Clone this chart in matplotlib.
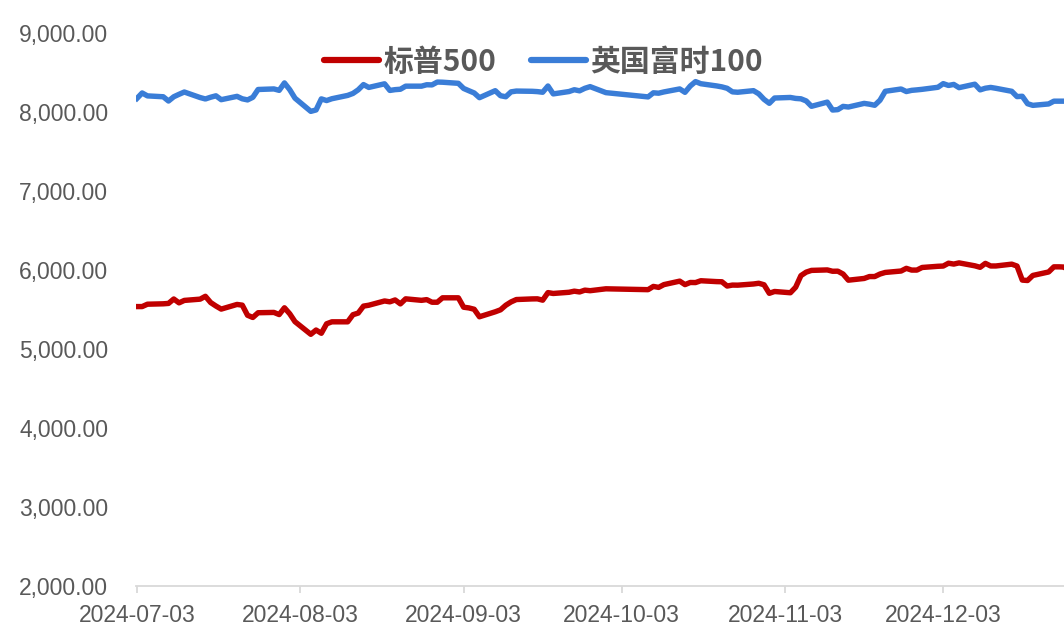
import numpy as np
import pandas as pd
import matplotlib
matplotlib.use("Agg")
import matplotlib.pyplot as plt
import matplotlib.dates as mdates
from matplotlib.ticker import FuncFormatter

# 交易日（10月1日-7日数据缺失，折线直接连接）
days = pd.bdate_range("2024-07-03", "2024-12-27")
days = days[(days < "2024-10-01") | (days > "2024-10-07")]

spx = [
    # 7月
    5537, 5537, 5567, 5572, 5577, 5633, 5584, 5615, 5631, 5667, 5588, 5544, 5505, 5564,
    5555, 5427, 5399, 5459, 5463, 5436, 5522,
    # 8月
    5446, 5346, 5186, 5240, 5199, 5319, 5344, 5344, 5434, 5455, 5543, 5554, 5608, 5597,
    5621, 5571, 5635, 5616, 5625, 5592, 5592, 5648,
    # 9月
    5648, 5529, 5520, 5503, 5408, 5471, 5496, 5554, 5596, 5626, 5634, 5635, 5618, 5714,
    5703, 5718, 5732, 5722, 5745, 5738, 5762,
    # 10月
    5751, 5792, 5780, 5815, 5859, 5815, 5842, 5841, 5864, 5853, 5851, 5797, 5809, 5808,
    5823, 5832, 5813, 5705,
    # 11月
    5728, 5712, 5782, 5929, 5973, 5995, 6001, 5984, 5985, 5949, 5871, 5893, 5917, 5917,
    5949, 5969, 5987, 6021, 5999, 5999, 6032,
    # 12月
    6047, 6050, 6086, 6075, 6090, 6053, 6034, 6084, 6051, 6051, 6074, 6050, 5872, 5867,
    5931, 5975, 6040, 6040, 6037, 5970,
]

ftse = [
    # 7月
    8171, 8241, 8204, 8193, 8139, 8193, 8224, 8253, 8183, 8165, 8187, 8205, 8156, 8198,
    8167, 8153, 8186, 8285, 8292, 8274, 8368,
    # 8月
    8283, 8175, 8008, 8026, 8166, 8145, 8168, 8210, 8235, 8281, 8347, 8311, 8357, 8273,
    8283, 8288, 8327, 8327, 8345, 8343, 8379, 8377,
    # 9月
    8363, 8298, 8269, 8241, 8181, 8270, 8206, 8193, 8255, 8265, 8262, 8258, 8250, 8329,
    8229, 8259, 8282, 8268, 8300, 8321, 8245,
    # 10月
    8191, 8243, 8238, 8254, 8292, 8249, 8329, 8385, 8358, 8330, 8318, 8300, 8255, 8250,
    8270, 8230, 8160, 8110,
    # 11月
    8177, 8184, 8172, 8167, 8140, 8072, 8125, 8025, 8030, 8071, 8063, 8109, 8099, 8085,
    8149, 8262, 8291, 8259, 8274, 8280, 8287,
    # 12月
    8313, 8359, 8336, 8349, 8308, 8352, 8280, 8301, 8311, 8300, 8262, 8195, 8199, 8105,
    8084, 8102, 8137, 8137, 8137, 8149,
]

series_names = ["标普500", "英国富时100"]
tick_dates = ["2024-07-03", "2024-08-03", "2024-09-03", "2024-10-03", "2024-11-03", "2024-12-03"]
y_ticks = [2000, 3000, 4000, 5000, 6000, 7000, 8000, 9000]

fig = plt.figure(figsize=(10.64, 6.41), dpi=100)
ax = fig.add_axes([136 / 1064, 55 / 641, 928 / 1064, 553 / 641])

ax.plot(days, spx, color="#C00000", lw=3.9, solid_joinstyle="round", label=series_names[0])
ax.plot(days, ftse, color="#3A7DD7", lw=3.9, solid_joinstyle="round", label=series_names[1])

ax.set_ylim(2000, 9000)
ax.set_xlim(pd.Timestamp("2024-07-02 20:00"), pd.Timestamp("2024-12-25 22:00"))
ax.set_yticks(y_ticks)
ax.yaxis.set_major_formatter(FuncFormatter(lambda v, p: f"{v:,.2f}"))
ax.set_xticks(pd.to_datetime(tick_dates))
ax.xaxis.set_major_formatter(mdates.DateFormatter("%Y-%m-%d"))

for s in ["top", "right", "left"]:
    ax.spines[s].set_visible(False)
ax.spines["bottom"].set_color("#D9D9D9")
ax.spines["bottom"].set_linewidth(1.3)

ax.tick_params(axis="y", length=0, pad=20, labelsize=16.5, labelcolor="#595959")
ax.tick_params(axis="x", length=5, width=1.3, color="#D9D9D9", pad=8, labelsize=16.5,
               labelcolor="#595959")
for lab in ax.get_xticklabels() + ax.get_yticklabels():
    lab.set_family(["Liberation Sans", "DejaVu Sans"])

leg = ax.legend(loc="center", bbox_to_anchor=(0.439, 0.948), ncol=2, frameon=False,
                handlelength=1.84, handletextpad=0.15, columnspacing=1.15,
                prop={"family": ["Noto Sans CJK SC", "DejaVu Sans"], "weight": "bold", "size": 21.5})
for t in leg.get_texts():
    t.set_color("#595959")
for h in leg.get_lines():
    h.set_linewidth(4.5)
    h.set_solid_capstyle("round")

fig.savefig("out.png", dpi=100)
